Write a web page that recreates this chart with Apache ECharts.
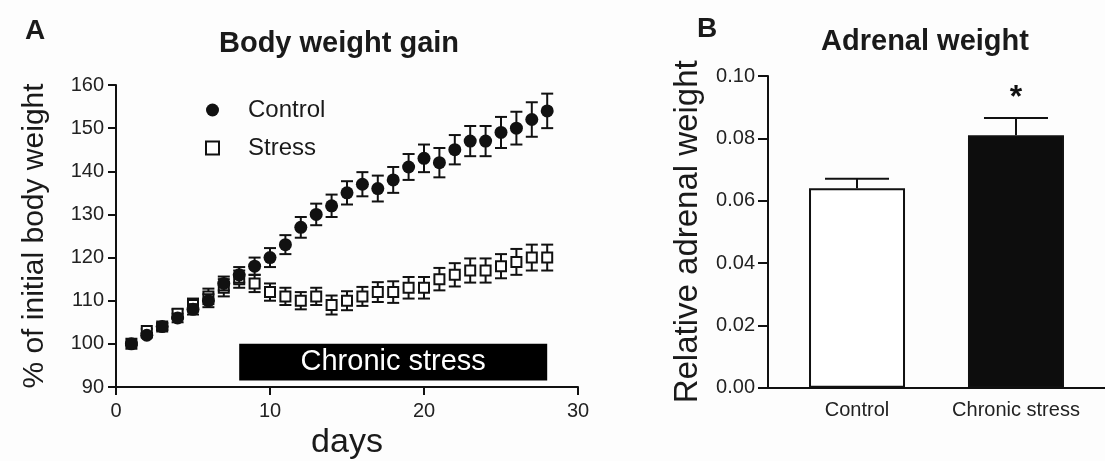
<!DOCTYPE html>
<html><head><meta charset="utf-8">
<script src="https://cdn.jsdelivr.net/npm/echarts@6/dist/echarts.min.js"></script>
<style>html,body{margin:0;padding:0;background:#fdfdfd}#c{width:1105px;height:461px}</style>
</head><body><div id="c"></div>
<script>
// Panel A data
const days = [1,2,3,4,5,6,7,8,9,10,11,12,13,14,15,16,17,18,19,20,21,22,23,24,25,26,27,28];
const controlMean = [100,102,104,106,108,110,114,116,118,120,123,127,130,132,135,137,136,138,141,143,142,145,147,147,149,150,152,154];
const controlSem  = [0.3,0.5,0.8,1,1.2,1.5,1.6,1.8,2,2.2,2.2,2.4,2.5,2.6,2.7,2.8,3,3,3,3.2,3.4,3.4,3.5,3.5,3.6,3.8,4,4];
const stressMean  = [100,103,104,107,109,111,113,115,114,112,111,110,111,109,110,111,112,112,113,113,115,116,117,117,118,119,120,120];
const stressSem   = [0.3,0.5,0.8,1,1.5,1.8,2,2,2,2,2,2,2,2.2,2.2,2.2,2.3,2.5,2.5,2.5,2.6,2.7,2.8,2.8,2.8,3,3,3];
const stressPeriod = [8, 28];
const yTicksA = [90,100,110,120,130,140,150,160];
const xTicksA = [0,10,20,30];
// Panel B data
const groups = ['Control','Chronic stress'];
const adrenalMean = [0.064, 0.081];
const adrenalSem  = [0.003, 0.0055];
const significance = ['', '*'];

const FONT = 'Liberation Sans, Arial, sans-serif';
const TXT = '#1a1a1a';

const chart = echarts.init(document.getElementById('c'), null, {renderer:'canvas'});

function errA(means, sems){ return days.map((d,i)=>[d, means[i], sems[i]]); }

function renderErrA(params, api){
  const x = api.value(0), y = api.value(1), e = api.value(2);
  const t = api.coord([x, y+e]), b = api.coord([x, y-e]);
  const w = 6;
  const st = {stroke:'#111', lineWidth:2};
  return {type:'group', children:[
    {type:'line', shape:{x1:t[0],y1:t[1],x2:b[0],y2:b[1]}, style:st},
    {type:'line', shape:{x1:t[0]-w,y1:t[1],x2:t[0]+w,y2:t[1]}, style:st},
    {type:'line', shape:{x1:b[0]-w,y1:b[1],x2:b[0]+w,y2:b[1]}, style:st}
  ]};
}

function renderErrB(params, api){
  const x = api.value(0), y = api.value(1), e = api.value(2);
  const base = api.coord([x, y]), t = api.coord([x, y+e]);
  const w = 32;
  const st = {stroke:'#111', lineWidth:2};
  const sig = significance[params.dataIndex];
  const ch = [
    {type:'line', shape:{x1:base[0],y1:base[1],x2:t[0],y2:t[1]}, style:st},
    {type:'line', shape:{x1:t[0]-w,y1:t[1],x2:t[0]+w,y2:t[1]}, style:st}
  ];
  if (sig) ch.push({type:'text', x:t[0], y:t[1]-4, style:{text:sig, fill:'#111', font:'bold 32px '+FONT, align:'center', verticalAlign:'bottom'}});
  return {type:'group', children:ch};
}

const axisLine = {show:true, lineStyle:{color:'#111', width:2}};

const option = {
  backgroundColor:'#fdfdfd',
  animation:false,
  title:[
    {text:'A', left:20, top:12, textStyle:{fontFamily:FONT, fontSize:28, fontWeight:'bold', color:TXT}},
    {text:'Body weight gain', left:334, textAlign:'center', top:24, textStyle:{fontFamily:FONT, fontSize:29, fontWeight:'bold', color:TXT}},
    {text:'B', left:692, top:10, textStyle:{fontFamily:FONT, fontSize:28, fontWeight:'bold', color:TXT}},
    {text:'Adrenal weight', left:920, textAlign:'center', top:22, textStyle:{fontFamily:FONT, fontSize:29, fontWeight:'bold', color:TXT}}
  ],
  legend:{
    left:200, top:93, orient:'vertical', itemGap:14, itemWidth:13, itemHeight:13,
    data:['Control','Stress'],
    textStyle:{fontFamily:FONT, fontSize:24, color:TXT, padding:[0,0,0,24]}
  },
  grid:[
    {left:116, top:85, width:462, height:302, outerBoundsMode:'none', containLabel:false},
    {left:768, top:76, width:337, height:311.7, outerBoundsMode:'none', containLabel:false}
  ],
  xAxis:[
    {gridIndex:0, type:'value', min:0, max:30, interval:10,
     name:'days', nameLocation:'middle', nameGap:39,
     nameTextStyle:{fontFamily:FONT, fontSize:34, color:TXT},
     axisLine:axisLine, axisTick:{show:true, length:8, lineStyle:{color:'#111', width:2}}, splitLine:{show:false},
     axisLabel:{fontFamily:FONT, fontSize:20, color:'#222', margin:14}},
    {gridIndex:1, type:'value', min:0.44, max:2.56,
     axisLine:axisLine, axisTick:{show:false}, splitLine:{show:false},
     axisLabel:{customValues:[1,2], formatter:v=>groups[Math.round(v)-1], fontFamily:FONT, fontSize:20, color:'#222', margin:13}}
  ],
  yAxis:[
    {gridIndex:0, type:'value', min:90, max:160, interval:10,
     name:'% of initial body weight', nameLocation:'middle', nameGap:66,
     nameTextStyle:{fontFamily:FONT, fontSize:30, color:TXT},
     axisLine:axisLine, axisTick:{show:true, length:8, lineStyle:{color:'#111', width:2}}, splitLine:{show:false},
     axisLabel:{fontFamily:FONT, fontSize:20, color:'#222', margin:12}},
    {gridIndex:1, type:'value', min:0, max:0.1, interval:0.02,
     name:'Relative adrenal weight', nameLocation:'middle', nameGap:64,
     nameTextStyle:{fontFamily:FONT, fontSize:33, color:TXT},
     axisLine:axisLine, axisTick:{show:true, length:10, lineStyle:{color:'#111', width:2}}, splitLine:{show:false},
     axisLabel:{fontFamily:FONT, fontSize:20, color:'#222', margin:13, formatter:v=>v.toFixed(2)}}
  ],
  series:[
    {name:'Stress SEM', type:'custom', xAxisIndex:0, yAxisIndex:0, renderItem:renderErrA,
     data:errA(stressMean, stressSem), z:2, silent:true,
     markArea:{silent:true, itemStyle:{color:'#000'},
       label:{show:true, position:'inside', color:'#fff', fontFamily:FONT, fontSize:29},
       data:[[{name:'Chronic stress', xAxis:stressPeriod[0], yAxis:91.5},{xAxis:stressPeriod[1], yAxis:100}]]}},
    {name:'Stress', type:'scatter', xAxisIndex:0, yAxisIndex:0, symbol:'rect', symbolSize:10,
     itemStyle:{color:'#fff', borderColor:'#111', borderWidth:2, opacity:1},
     data:days.map((d,i)=>[d, stressMean[i]]), z:3},
    {name:'Control SEM', type:'custom', xAxisIndex:0, yAxisIndex:0, renderItem:renderErrA,
     data:errA(controlMean, controlSem), z:4, silent:true},
    {name:'Control', type:'scatter', xAxisIndex:0, yAxisIndex:0, symbol:'circle', symbolSize:13,
     itemStyle:{color:'#111', opacity:1},
     data:days.map((d,i)=>[d, controlMean[i]]), z:5},
    {name:'Adrenal', type:'bar', xAxisIndex:1, yAxisIndex:1, barWidth:96,
     data:adrenalMean.map((v,i)=>({value:[i+1, v], itemStyle: i===0 ? {color:'#fff', borderColor:'#111', borderWidth:2} : {color:'#0d0d0d', borderColor:'#111', borderWidth:2}})), z:2},
    {name:'AdrenalErr', type:'custom', xAxisIndex:1, yAxisIndex:1, renderItem:renderErrB,
     data:adrenalMean.map((v,i)=>[i+1, v, adrenalSem[i]]), z:3, silent:true}
  ]
};
chart.setOption(option);
</script></body></html>
